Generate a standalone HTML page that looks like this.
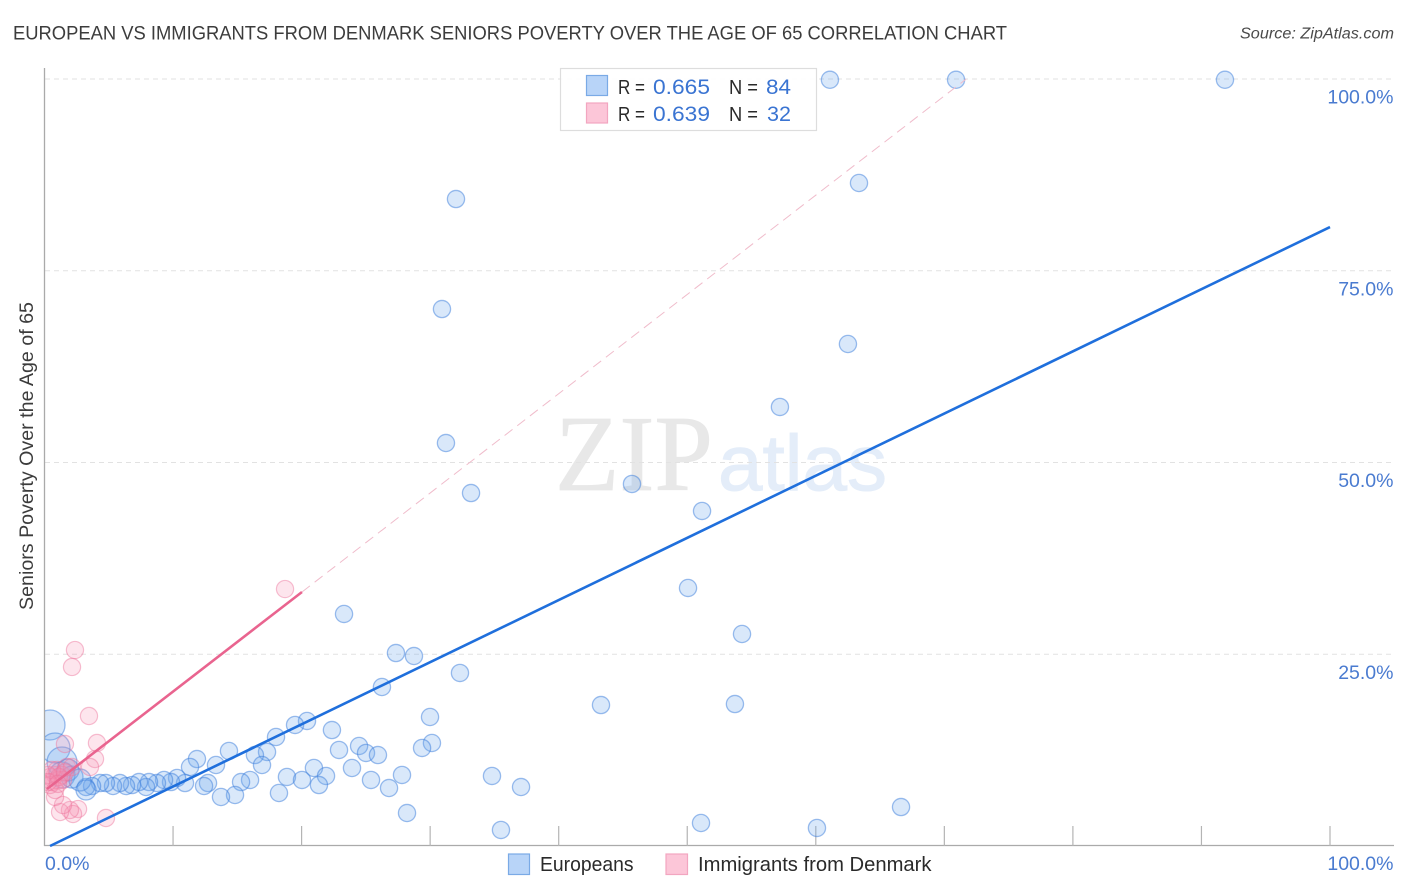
<!DOCTYPE html>
<html><head><meta charset="utf-8"><title>Correlation chart</title>
<style>
html,body{margin:0;padding:0;background:#fff;width:1406px;height:892px;overflow:hidden}
svg{display:block;font-family:"Liberation Sans",sans-serif}
</style></head>
<body>
<svg id="chart" width="1406" height="892" viewBox="0 0 1406 892">
<defs><clipPath id="plot-clip"><rect x="45" y="60" width="1361" height="786"/></clipPath></defs>
<text x="13" y="39.5" font-size="19.5" fill="#3c3c3c" textLength="994" lengthAdjust="spacingAndGlyphs">EUROPEAN VS IMMIGRANTS FROM DENMARK SENIORS POVERTY OVER THE AGE OF 65 CORRELATION CHART</text>
<text x="1394" y="38.5" font-size="15.5" font-style="italic" fill="#4a4a4a" text-anchor="end" textLength="154" lengthAdjust="spacingAndGlyphs">Source: ZipAtlas.com</text>
<g>
<text x="555" y="490" font-family="'Liberation Serif',serif" font-size="108" fill="#e8e8e8" stroke="#e8e8e8" stroke-width="0.8" textLength="158" lengthAdjust="spacingAndGlyphs">ZIP</text>
<text x="718" y="490" font-family="'Liberation Sans',sans-serif" font-size="79" fill="#e4edf9" stroke="#e4edf9" stroke-width="1" textLength="169" lengthAdjust="spacingAndGlyphs">atlas</text>
</g>
<g id="grid"></g>
<g id="axes"></g>
<g id="blue" clip-path="url(#plot-clip)"></g>
<g id="pink" clip-path="url(#plot-clip)"></g>
<g id="lines"></g>
<text transform="translate(33 456) rotate(-90)" font-size="19" fill="#3c3c3c" text-anchor="middle" textLength="308" lengthAdjust="spacingAndGlyphs">Seniors Poverty Over the Age of 65</text>
<g>
<rect x="560.5" y="68.5" width="256" height="62" fill="#fff" fill-opacity="0.92" stroke="#ddd" stroke-width="1.2"/>
<rect x="586.5" y="75.5" width="21" height="20" fill="#b8d4f8" stroke="#7aaae6" stroke-width="1.2"/>
<rect x="586.5" y="103" width="21" height="20" fill="#fcc6d8" stroke="#f2a6c0" stroke-width="1.2"/>
<text x="618" y="94" font-size="20.5" fill="#2a2a2a" textLength="27" lengthAdjust="spacingAndGlyphs">R =</text>
<text x="653" y="94" font-size="21.5" fill="#3a74d2" textLength="57" lengthAdjust="spacingAndGlyphs">0.665</text>
<text x="729" y="94" font-size="20.5" fill="#2a2a2a" textLength="29" lengthAdjust="spacingAndGlyphs">N =</text>
<text x="766" y="94" font-size="21.5" fill="#3a74d2" textLength="25" lengthAdjust="spacingAndGlyphs">84</text>
<text x="618" y="121" font-size="20.5" fill="#2a2a2a" textLength="27" lengthAdjust="spacingAndGlyphs">R =</text>
<text x="653" y="121" font-size="21.5" fill="#3a74d2" textLength="57" lengthAdjust="spacingAndGlyphs">0.639</text>
<text x="729" y="121" font-size="20.5" fill="#2a2a2a" textLength="29" lengthAdjust="spacingAndGlyphs">N =</text>
<text x="767" y="121" font-size="21.5" fill="#3a74d2" textLength="24" lengthAdjust="spacingAndGlyphs">32</text>
</g>
<g>
<rect x="508.5" y="854" width="21" height="20.5" fill="#b8d4f8" stroke="#7aaae6" stroke-width="1.2"/>
<text x="540" y="871" font-size="20" fill="#2a2a2a" textLength="93.5" lengthAdjust="spacingAndGlyphs">Europeans</text>
<rect x="666" y="854" width="21.5" height="20.5" fill="#fcc6d8" stroke="#f2a6c0" stroke-width="1.2"/>
<text x="698" y="871" font-size="20" fill="#2a2a2a" textLength="233.5" lengthAdjust="spacingAndGlyphs">Immigrants from Denmark</text>
</g>
</svg>
<script>
const yTicks = [25, 50, 75, 100];
const yTickLabels = ["25.0%", "50.0%", "75.0%", "100.0%"];
const xTicks = [10, 20, 30, 40, 50, 60, 70, 80, 90, 100];
const xEndLabels = ["0.0%", "100.0%"];

const blueX = [61.1,70.91,91.83,63.36,32.01,30.92,62.5,57.21,31.23,33.18,45.7,51.15,50.06,54.26,23.3,27.34,28.74,32.32,26.25,43.29,53.71,29.99,22.36,20.42,19.49,18.01,30.14,29.37,24.47,22.91,25.01,25.94,17.31,16.37,16.92,14.35,11.86,13.34,11.32,23.92,20.96,27.81,25.4,21.9,18.86,20.03,21.35,26.8,34.81,37.07,28.2,35.51,51.07,60.09,66.63,18.24,15.99,15.29,14.82,13.73,12.72,12.41,10.93,10.31,9.84,9.3,8.75,8.13,7.9,7.35,6.81,6.34,5.87,5.33,4.78,4.32,3.7,3.23];
const blueY = [99.9,99.9,99.9,86.44,84.35,70.01,65.45,57.24,52.54,46.02,47.2,43.68,33.64,27.64,30.25,25.16,24.77,22.56,20.73,18.38,18.51,16.82,15.12,16.3,15.78,14.21,13.43,12.78,13.04,12.52,12.13,11.86,12.26,11.86,10.56,12.39,11.34,10.56,10.3,10.17,10.17,9.26,8.61,9.13,9.0,8.61,7.95,7.56,9.13,7.69,4.3,2.09,3.0,2.35,5.08,6.91,8.61,8.34,6.65,6.39,8.21,7.82,8.21,8.87,8.34,8.61,8.21,8.34,7.69,8.34,7.95,7.82,8.21,7.82,8.21,8.21,7.82,7.69];
const blueBigX = [0.43,0.82,1.36,1.36,1.83,2.14,2.76,3.23];
const blueBigY = [15.78,12.78,10.95,9.26,9.91,9.0,8.61,7.3];
const blueBigSize = [15,15,15,13,11,11,11,10];

const pinkX = [2.37,2.14,3.46,4.08,3.93,1.59,3.54,4.78,2.61,2.22,1.98,1.21,1.44,0.82,0.82,0.43,0.58,0.97,1.36,1.05,1.75,2.14,1.44,0.27,18.71,0.43,0.82,1.13,0.58,0.27,1.59,1.05];
const pinkY = [25.55,23.34,16.95,13.43,11.34,13.3,10.3,3.65,4.82,4.17,4.69,4.43,5.34,6.39,9.26,9.0,8.34,9.91,9.26,8.61,10.3,10.3,8.61,9.26,33.5,7.95,7.3,9.0,9.91,8.34,9.6,8.1];

const blueTrendX = [0.43, 100];
const blueTrendY = [0, 80.7];
const pinkTrendX = [0.19, 20.03];
const pinkTrendY = [7.43, 33.12];
const pinkDashX = [20.03, 71.7];
const pinkDashY = [33.12, 100];

const NS = 'http://www.w3.org/2000/svg';
const sx = v => 44.5 + v * 12.855;
const sy = v => 846 - v * 7.67;
function make(tag, attrs, parent, text) {
  const el = document.createElementNS(NS, tag);
  for (const k in attrs) el.setAttribute(k, attrs[k]);
  if (text !== undefined) el.textContent = text;
  parent.appendChild(el);
  return el;
}
const grid = document.getElementById('grid');
const axes = document.getElementById('axes');
const blue = document.getElementById('blue');
const pink = document.getElementById('pink');
const lines = document.getElementById('lines');

yTicks.forEach((t, i) => {
  const g = make('line', {x1: 45, x2: 1393, y1: sy(t), y2: sy(t), stroke: '#e2e2e2', 'stroke-width': 1, 'stroke-dasharray': '5 4'}, grid);
  
  
  const lab = make('text', {x: 1393.5, y: sy(t) + 24.5, 'font-size': 19.5, fill: '#4a7bd0', 'text-anchor': 'end'}, axes, yTickLabels[i]);
  
  
});
const yAxis = make('line', {x1: 44.5, x2: 44.5, y1: 68, y2: 846, stroke: '#aaa', 'stroke-width': 1.3}, axes);


const xAxis = make('line', {x1: 44, x2: 1394, y1: 845.5, y2: 845.5, stroke: '#aaa', 'stroke-width': 1.3}, axes);


xTicks.forEach(t => {
  const k = make('line', {x1: sx(t), x2: sx(t), y1: 826, y2: 846, stroke: '#b4b4b4', 'stroke-width': 1.2}, axes);
  
  
});
const x0 = make('text', {x: 45, y: 870, 'font-size': 19.5, fill: '#4a7bd0'}, axes, xEndLabels[0]);


const x1 = make('text', {x: 1393.5, y: 870, 'font-size': 19.5, fill: '#4a7bd0', 'text-anchor': 'end'}, axes, xEndLabels[1]);



function bluePoint(x, y, r) {
  const c = make('circle', {cx: sx(x), cy: sy(y), r: r, fill: 'rgba(110,165,235,0.26)', stroke: 'rgba(60,125,220,0.5)', 'stroke-width': 1.3}, blue);
  
  
}
blueX.forEach((x, i) => bluePoint(x, blueY[i], 8.6));
blueBigX.forEach((x, i) => bluePoint(x, blueBigY[i], blueBigSize[i]));
pinkX.forEach((x, i) => {
  const c = make('circle', {cx: sx(x), cy: sy(pinkY[i]), r: 8.6, fill: 'rgba(245,145,178,0.24)', stroke: 'rgba(238,115,155,0.45)', 'stroke-width': 1.2}, pink);
  
  
});

const tb = make('line', {x1: sx(blueTrendX[0]), y1: sy(blueTrendY[0]), x2: sx(blueTrendX[1]), y2: sy(blueTrendY[1]), stroke: '#1f6fdc', 'stroke-width': 2.6}, lines);


const tp = make('line', {x1: sx(pinkTrendX[0]), y1: sy(pinkTrendY[0]), x2: sx(pinkTrendX[1]), y2: sy(pinkTrendY[1]), stroke: '#e9648f', 'stroke-width': 2.6}, lines);


const td = make('line', {x1: sx(pinkDashX[0]), y1: sy(pinkDashY[0]), x2: sx(pinkDashX[1]), y2: sy(pinkDashY[1]), stroke: '#f0bccb', 'stroke-width': 1, 'stroke-dasharray': '10 6'}, lines);


</script>
</body></html>
